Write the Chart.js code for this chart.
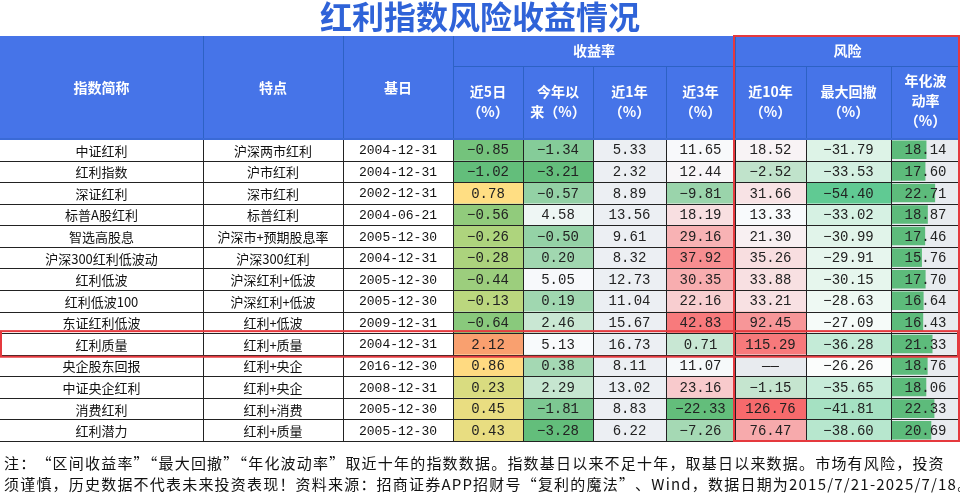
<!DOCTYPE html>
<html><head><meta charset="utf-8">
<script src="https://cdn.jsdelivr.net/npm/chart.js@4"></script>
<style>html,body{margin:0;padding:0;background:#fff}#wrap{width:960px;height:503px}</style>
</head><body><div id="wrap"><canvas id="c"></canvas></div>
<script>
const names=["中证红利","红利指数","深证红利","标普A股红利","智选高股息","沪深300红利低波动","红利低波","红利低波100","东证红利低波","红利质量","央企股东回报","中证央企红利","消费红利","红利潜力"];
const features=["沪深两市红利","沪市红利","深市红利","标普红利","沪深市+预期股息率","沪深300红利","沪深红利+低波","沪深红利+低波","红利+低波","红利+质量","红利+央企","红利+央企","红利+消费","红利+质量"];
const baseDates=["2004-12-31","2004-12-31","2002-12-31","2004-06-21","2005-12-30","2004-12-31","2005-12-30","2005-12-30","2009-12-31","2004-12-31","2016-12-30","2008-12-31","2005-12-30","2005-12-30"];
const ret5d=[-0.85,-1.02,0.78,-0.56,-0.26,-0.28,-0.44,-0.13,-0.64,2.12,0.86,0.23,0.45,0.43];
const retYTD=[-1.34,-3.21,-0.57,4.58,-0.50,0.20,5.05,0.19,2.46,5.13,0.38,2.29,-1.81,-3.28];
const ret1y=[5.33,2.32,8.89,13.56,9.61,8.32,12.73,11.04,15.67,16.73,8.11,13.02,8.83,6.22];
const ret3y=[11.65,12.44,-9.81,18.19,29.16,37.92,30.35,22.16,42.83,0.71,11.07,23.16,-22.33,-7.26];
const ret10y=[18.52,-2.52,31.66,13.33,21.30,35.26,33.88,33.21,92.45,115.29,null,-1.15,126.76,76.47];
const maxDD=[-31.79,-33.53,-54.40,-33.02,-30.99,-29.91,-30.15,-28.63,-27.09,-36.28,-26.26,-35.65,-41.81,-38.60];
const vol=[18.14,17.60,22.71,18.87,17.46,15.76,17.70,16.64,16.43,21.33,18.76,18.06,22.33,20.69];
const colHeaders=["指数简称","特点","基日","近5日\n（%）","今年以\n来（%）","近1年\n（%）","近3年\n（%）","近10年\n（%）","最大回撤\n（%）","年化波\n动率\n（%）"];

const edges=[0,203,343,453,523,593,666,735,806,891,960];
function hex(c){return [parseInt(c.slice(1,3),16),parseInt(c.slice(3,5),16),parseInt(c.slice(5,7),16)];}
function scale(v,stops){
  if(v<=stops[0][0])return stops[0][1];
  for(let i=1;i<stops.length;i++){if(v<=stops[i][0]){const a=stops[i-1],b=stops[i];const t=(v-a[0])/(b[0]-a[0]);const ca=hex(a[1]),cb=hex(b[1]);return `rgb(${ca.map((x,k)=>Math.round(x+(cb[k]-x)*t)).join(',')})`;}}
  return stops[stops.length-1][1];
}
const colorFns=[
 v=>scale(v,[[-1.02,'#63be7b'],[0.0,'#c8db7e'],[0.75,'#ffdf83'],[2.12,'#f9a06f']]),
 v=>scale(v,[[-3.28,'#63be7b'],[5.13,'#f8fafc']]),
 v=>'#eceff3',
 v=>scale(v,[[-22.33,'#63be7b'],[11.5,'#f8fafc'],[42.83,'#f87a7c']]),
 v=>v==null?'#e8ebef':scale(v,[[-2.52,'#c0e3cb'],[13.33,'#f8fafc'],[126.76,'#f76a6c']]),
 v=>scale(v,[[-54.40,'#60ca93'],[-26.26,'#fbfdfc']])
];
const numCols=[ret5d,retYTD,ret1y,ret3y,ret10y,maxDD];
const NUMF="'Liberation Mono','Noto Sans CJK SC',monospace";
const CJK="'Noto Sans CJK SC',sans-serif";

const tablePlugin={id:'table',beforeDatasetsDraw(chart){
  const ctx=chart.ctx,ys=chart.scales.y,xs=chart.scales.x;
  const X=i=>xs.getPixelForValue(edges[i]);
  const rowH=Math.abs(ys.getPixelForValue(1)-ys.getPixelForValue(0));
  const top=ys.getPixelForValue(0)-rowH/2;
  ctx.save();
  ctx.fillStyle='#2f63d8';ctx.font="bold 32px "+CJK;ctx.textAlign='center';ctx.textBaseline='middle';
  ctx.fillText("红利指数风险收益情况",480,17);
  const hTop=36,hMid=66;
  ctx.fillStyle='#4674e8';ctx.fillRect(0,hTop,960,top-hTop);
  ctx.strokeStyle='#2d62c4';ctx.lineWidth=1;
  ctx.beginPath();
  ctx.moveTo(X(3),hMid+.5);ctx.lineTo(960,hMid+.5);
  for(let i=1;i<10;i++){const x=Math.round(X(i))+.5;const y0=(i===3||i===7)?hTop:(i>3?hMid:hTop);ctx.moveTo(x,y0);ctx.lineTo(x,top);}
  ctx.stroke();
  ctx.fillStyle='#fff';ctx.font="bold 14px "+CJK;
  ctx.fillText("收益率",(X(3)+X(7))/2,51);ctx.fillText("风险",(X(7)+X(10))/2,51);
  colHeaders.forEach((h,i)=>{const lines=h.split('\n');const cx=(X(i)+X(i+1))/2;
    if(i<3){ctx.fillText(lines[0],cx,88);return;}
    const lh=20,cy=lines.length===3?101:102;
    lines.forEach((l,k)=>ctx.fillText(l,cx,cy+(k-(lines.length-1)/2)*lh));});
  names.forEach((n,r)=>{
    const cy=ys.getPixelForValue(r),y0=cy-rowH/2;
    ctx.fillStyle='#111';
    [n,features[r],baseDates[r]].forEach((t,c)=>{ctx.font=(c===2?"13px "+NUMF:"13px "+CJK);ctx.fillText(t,(X(c)+X(c+1))/2,cy+1);});
    numCols.forEach((arr,k)=>{const c=k+3,v=arr[r];ctx.fillStyle=colorFns[k](v);ctx.fillRect(X(c),y0,X(c+1)-X(c),rowH);
      ctx.fillStyle='#222';ctx.font="14px "+NUMF;ctx.fillText(v==null?"——":v.toFixed(2).replace('-','−'),(X(c)+X(c+1))/2,cy+1);});
    ctx.fillStyle='#e8ebef';ctx.fillRect(X(9),y0,X(10)-X(9),rowH);
  });
  ctx.restore();
},
afterDatasetsDraw(chart){
  const ctx=chart.ctx,ys=chart.scales.y,xs=chart.scales.x;
  const X=i=>xs.getPixelForValue(edges[i]);
  const rowH=Math.abs(ys.getPixelForValue(1)-ys.getPixelForValue(0));
  const top=ys.getPixelForValue(0)-rowH/2,bottom=ys.getPixelForValue(names.length-1)+rowH/2;
  ctx.save();ctx.textAlign='center';ctx.textBaseline='middle';
  vol.forEach((v,r)=>{ctx.fillStyle='#222';ctx.font="14px "+NUMF;ctx.fillText(v.toFixed(2),(X(9)+X(10))/2,ys.getPixelForValue(r)+1);});
  ctx.strokeStyle='#222';ctx.lineWidth=1;ctx.beginPath();
  for(let r=0;r<=names.length;r++){const y=Math.round(top+r*rowH)+.5;ctx.moveTo(0,y);ctx.lineTo(960,y);}
  for(let i=1;i<10;i++){const x=Math.round(X(i))+.5;ctx.moveTo(x,top);ctx.lineTo(x,bottom);}
  ctx.stroke();
  ctx.strokeStyle='#3a6ad6';ctx.lineWidth=2;ctx.beginPath();ctx.moveTo(0,top);ctx.lineTo(960,top);ctx.stroke();
  ctx.strokeStyle='#e5393e';ctx.lineWidth=2;
  ctx.strokeRect(X(7)-1,36,960-X(7),bottom-36);
  const ry=ys.getPixelForValue(9);
  ctx.strokeRect(1,ry-rowH/2-2,957,rowH+4);
  ctx.fillStyle='#111';ctx.textAlign='left';ctx.font="15px "+CJK;
  ctx.letterSpacing='1.2px';
  ctx.fillText("注：“区间收益率”“最大回撤”“年化波动率”取近十年的指数数据。指数基日以来不足十年，取基日以来数据。市场有风险，投资",4,463);
  ctx.fillText("须谨慎，历史数据不代表未来投资表现！资料来源：招商证券APP招财号“复利的魔法”、Wind，数据日期为2015/7/21-2025/7/18。",4,484);
  ctx.restore();
}};

new Chart(document.getElementById('c'),{
  type:'bar',
  data:{labels:names,datasets:[{data:vol,xAxisID:'xv',backgroundColor:'#5dbb7b',borderWidth:0,barPercentage:1,categoryPercentage:0.86}]},
  options:{indexAxis:'y',responsive:true,maintainAspectRatio:false,animation:false,
    layout:{padding:{top:139,bottom:62,left:0,right:0}},
    plugins:{legend:{display:false},tooltip:{enabled:false}},
    scales:{
      y:{type:'category',display:false,offset:true},
      x:{type:'linear',display:false,min:0,max:960},
      xv:{type:'linear',display:false,min:-469.5,max:35.8}
    }}
  ,plugins:[tablePlugin]
});
</script></body></html>
